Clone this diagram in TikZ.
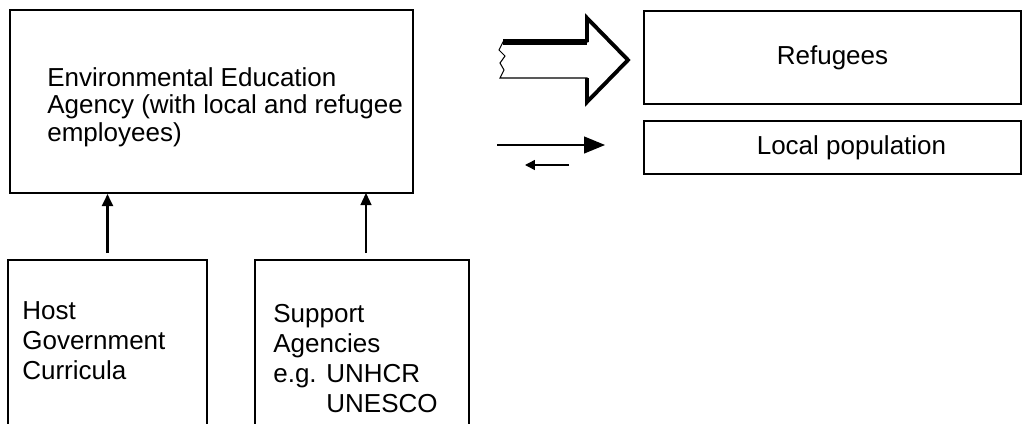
\documentclass[tikz,border=0pt]{standalone}
\usepackage{fontspec}
\setmainfont{Liberation Sans}
\usetikzlibrary{arrows.meta, positioning}

\begin{document}
\begin{tikzpicture}[x=0.02cm, y=-0.02cm,
    box/.style={draw, line width=1.2pt, inner sep=0pt, font=\fontsize{14.8}{15.7}\selectfont},
    txt/.style={inner sep=0pt, align=left, anchor=north west, font=\fontsize{14.8}{17.1}\selectfont}]
    \useasboundingbox (0,0) rectangle (1024,423);
    \clip (0,0) rectangle (1024,423);

    \node[box, minimum width=8.06cm, minimum height=3.66cm] (agency) at (211.5,101.5) {};
    \node[box, minimum width=7.54cm, minimum height=1.86cm] (refugees) at (832.5,57.5) {Refugees};
    \node[box, minimum width=7.54cm, minimum height=1.06cm] (local) at (832.5,147.5) {\hspace*{0.76cm}Local population};
    \node[txt, font=\fontsize{14.8}{15.7}\selectfont] (agencytext) at (47,67) {Environmental Education\\Agency (with local and refugee\\employees)};

    \node[box, minimum width=3.98cm, minimum height=4cm, anchor=north] (host) at (107.5,259) {};
    \node[box, minimum width=4.28cm, minimum height=4cm, anchor=north] (support) at (362,259) {};
    \node[txt] (hosttext) at (22,301) {Host\\Government\\Curricula};
    \node[txt] (supporttext) at (273,304) {Support\\Agencies\\e.g. UNHCR\\\phantom{e.g. }UNESCO};

    % block arrow towards the refugees
    \draw[line width=0.6pt, line join=miter] (503,42) -- (499,50) -- (505,56) -- (500,63) -- (504,70) -- (500,78) -- (587,78) -- (587,102) -- (628,60) -- (587,18) -- (587,42) -- cycle;
    \draw[line width=2.2pt, line join=miter] (587,42) -- (587,18) -- (628,60) -- (587,102) -- (587,78);
    \draw[line width=3pt] (503,42) -- (587,42);

    \draw[line width=0.7pt, -{Triangle[length=0.42cm, width=0.34cm]}, shorten <=1.66cm, shorten >=0.76cm] (agency.east |- 0,145) -- (local.west |- 0,145);
    \draw[line width=0.8pt, -{Triangle[length=0.2cm, width=0.2cm]}, shorten <=1.48cm, shorten >=2.22cm] (local.west |- 0,165) -- (agency.east |- 0,165);

    \draw[line width=1.2pt, -{Triangle[length=0.24cm, width=0.22cm]}, shorten <=0.12cm] (host.north) -- (host.north |- agency.south);
    \draw[line width=0.7pt, -{Triangle[length=0.24cm, width=0.22cm]}, shorten <=0.12cm] ([xshift=0.08cm]support.north) -- ++(0,-66);
\end{tikzpicture}
\end{document}
